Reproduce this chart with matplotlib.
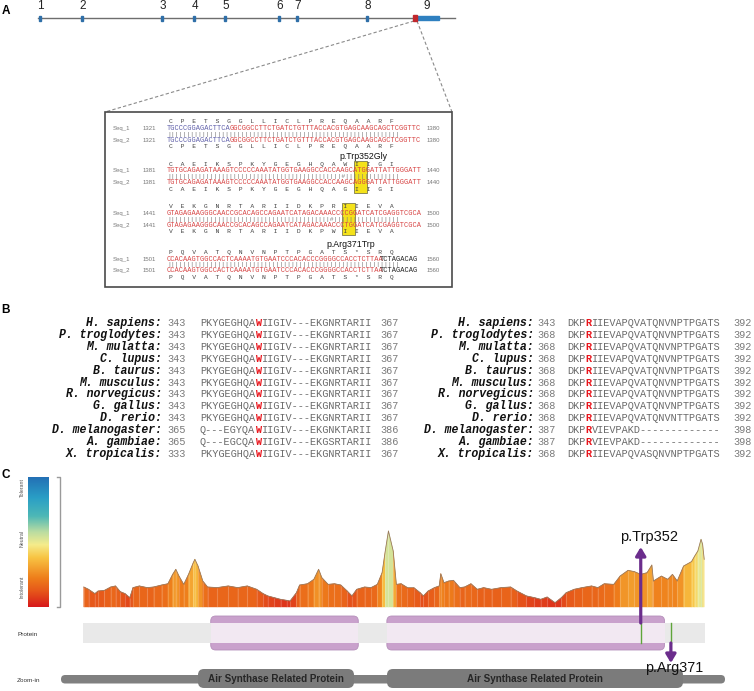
import matplotlib
matplotlib.use("Agg")
import matplotlib.pyplot as plt
import numpy as np
from matplotlib.colors import LinearSegmentedColormap, Normalize
from matplotlib.patches import Rectangle, FancyBboxPatch
from matplotlib.collections import PolyCollection

# ---------------- data ----------------
exon_labels = ["1", "2", "3", "4", "5", "6", "7", "8", "9"]
exon_pos = [40, 82, 162, 194, 225, 279, 297, 367, 415]
gene_span = [38, 455]
utr_span = [417, 439]

seq_start = [1321, 1381, 1441, 1501]
seq_end = [1380, 1440, 1500, 1560]
seq1 = ["TGCCCGGAGACTTCAGGCGGCCTTCTGATCTGTTTACCACGTGAGCAAGCAGCTCGGTTC",
        "TGTGCAGAGATAAAGTCCCCCAAATATGGTGAAGGCCACCAAGCATGGATTATTGGGATT",
        "GTAGAGAAGGGCAACCGCACAGCCAGAATCATAGACAAACCCCGGATCATCGAGGTCGCA",
        "CCACAAGTGGCCACTCAAAATGTGAATCCCACACCCGGGGCCACCTCTTAATCTAGACAG"]
seq2 = ["TGCCCGGAGACTTCAGGCGGCCTTCTGATCTGTTTACCACGTGAGCAAGCAGCTCGGTTC",
        "TGTGCAGAGATAAAGTCCCCCAAATATGGTGAAGGCCACCAAGCAGGGATTATTGGGATT",
        "GTAGAGAAGGGCAACCGCACAGCCAGAATCATAGACAAACCCTGGATCATCGAGGTCGCA",
        "CCACAAGTGGCCACTCAAAATGTGAATCCCACACCCGGGGCCACCTCTTAATCTAGACAG"]
aa1 = ["CPETSGGLLICLPREQAARF", "CAEIKSPKYGEGHQAWIIGI",
       "VEKGNRTARIIDKPRIIEVA", "PQVATQNVNPTPGATS*SRQ"]
aa2 = ["CPETSGGLLICLPREQAARF", "CAEIKSPKYGEGHQAGIIGI",
       "VEKGNRTARIIDKPWIIEVA", "PQVATQNVNPTPGATS*SRQ"]
blue_nt = [15, 0, 0, 0]        # leading nucleotides drawn in blue
black_nt = [0, 0, 0, 9]        # trailing nucleotides drawn in black
mut_rows = [1, 2]
mut_codons = [15, 14]
mut_names = ["p.Trp352Gly", "p.Arg371Trp"]

species = ["H. sapiens:", "P. troglodytes:", "M. mulatta:", "C. lupus:",
           "B. taurus:", "M. musculus:", "R. norvegicus:", "G. gallus:",
           "D. rerio:", "D. melanogaster:", "A. gambiae:", "X. tropicalis:"]
left_start = [343, 343, 343, 343, 343, 343, 343, 343, 343, 365, 365, 333]
left_end = [367, 367, 367, 367, 367, 367, 367, 367, 367, 386, 386, 367]
left_seq = ["PKYGEGHQAWIIGIV---EKGNRTARII", "PKYGEGHQAWIIGIV---EKGNRTARII",
            "PKYGEGHQAWIIGIV---EKGNRTARII", "PKYGEGHQAWIIGIV---EKGNRTARII",
            "PKYGEGHQAWIIGIV---EKGNRTARII", "PKYGEGHQAWIIGIV---EKGNRTARII",
            "PKYGEGHQAWIIGIV---EKGNRTARII", "PKYGEGHQAWIIGIV---EKGNRTARII",
            "PKYGEGHQAWIIGIV---EKGNRTARII", "Q---EGYQAWIIGIV---EKGNKTARII",
            "Q---EGCQAWIIGIV---EKGSRTARII", "PKYGEGHQAWIIGIV---EKGNRTARII"]
left_hl = 9
right_start = [343, 368, 368, 368, 368, 368, 368, 368, 368, 387, 387, 368]
right_end = [392, 392, 392, 392, 392, 392, 392, 392, 392, 398, 398, 392]
right_seq = ["DKPRIIEVAPQVATQNVNPTPGATS", "DKPRIIEVAPQVATQNVNPTPGATS",
             "DKPRIIEVAPQVATQNVNPTPGATS", "DKPRIIEVAPQVATQNVNPTPGATS",
             "DKPRIIEVAPQVATQNVNPTPGATS", "DKPRIIEVAPQVATQNVNPTPGATS",
             "DKPRIIEVAPQVATQNVNPTPGATS", "DKPRIIEVAPQVATQNVNPTPGATS",
             "DKPRIIEVAPQVATQNVNTTPGATS", "DKPRVIEVPAKD-------------",
             "DKPRVIEVPAKD-------------", "DKPRIIEVAPQVASQNVNPTPGATS"]
right_hl = 3

prof_res = [1, 4, 8, 10, 14, 18, 21, 24, 27, 30, 32, 36, 41, 45, 50, 54, 57, 59,
            61, 64, 67, 70, 71, 73, 76, 79, 85, 92, 98, 104, 110, 114, 117, 121,
            125, 129, 131, 135, 137, 142, 146, 149, 151, 155, 159, 163, 167, 170,
            173, 178, 182, 186, 189, 191, 193, 196, 198, 201, 205,
            209, 213, 215, 218, 222, 225, 226, 228, 231, 234, 238, 241, 245, 249,
            253, 258, 264, 270, 274, 280, 285, 289, 293, 298, 302, 305, 310, 315,
            321, 325, 329, 335, 339, 344, 348, 352, 356, 359, 360, 365, 369, 372,
            375, 379, 384, 386, 388, 390, 391, 392]
prof_score = [.154, .136, .103, .123, .128, .154, .162, .118, .103, .072, .149, .162,
              .149, .154, .169, .179, .251, .290, .238, .174, .251, .341, .367, .315,
              .200, .154, .149, .162, .149, .162, .136, .103, .085, .072, .059, .051,
              .046, .110, .169, .179, .213, .290, .226, .174, .179, .169, .123, .085,
              .136, .154, .149, .174, .264, .431, .585, .431, .174, .179, .149,
              .149, .110, .085, .123, .149, .162, .256, .187, .200, .205, .149, .154,
              .179, .136, .149, .136, .149, .154, .123, .085, .072, .059, .077, .033,
              .072, .110, .136, .149, .162, .149, .179, .174, .238, .282, .272, .251,
              .264, .323, .200, .238, .213, .251, .200, .315, .349, .392, .431, .521,
              .482, .367]
assert len(prof_res) == len(prof_score)

protein_len = 392
domains = [(81, 174), (192, 367)]
mutations = [352, 371]
mutation_labels = ["p.Trp352", "p.Arg371"]
zoom_bar = [61, 725]
zoom_domains = [(198, 354), (387, 683)]
zoom_domain_label = "Air Synthase Related Protein"
scale_labels = ["Tolerant", "Neutral", "Intolerant"]

# ---------------- figure ----------------
W, H = 754, 691
fig = plt.figure(figsize=(W / 100, H / 100), dpi=100)


def axes_px(x0, y0, x1, y1, **kw):
    return fig.add_axes([x0 / W, 1 - y1 / H, (x1 - x0) / W, (y1 - y0) / H], **kw)


ax = axes_px(0, 0, W, H)
ax.set_xlim(0, W)
ax.set_ylim(H, 0)
ax.axis("off")

SANS = "Liberation Sans"
MONO = "Liberation Mono"

# panel labels
for lab, (lx, ly) in zip("ABC", [(6, 11), (6, 310), (6, 475)]):
    ax.text(lx, ly, lab, fontsize=8.5, fontweight="bold", family=SANS,
            ha="center", va="center")

# ---------------- panel A: gene model ----------------
ax.plot(gene_span, [18, 18], color="#6e6e6e", lw=1.0, zorder=2)
for i, (lab, xp) in enumerate(zip(exon_labels, exon_pos)):
    if i < len(exon_pos) - 1:
        ax.add_patch(Rectangle((xp - 1, 15.5), 2.2, 5, color="#2f6fa8", zorder=3))
        ax.text(xp + 0.5, 6, lab, fontsize=8.5, family=SANS, ha="center",
                va="center", color="#222")
    else:
        ax.add_patch(Rectangle((xp - 2, 15), 4, 6, color="#c0282d", zorder=4))
        ax.add_patch(Rectangle((utr_span[0], 16.2), utr_span[1] - utr_span[0], 3.6,
                               color="#2f80c0", zorder=3))
        ax.text((xp + utr_span[1]) / 2, 6, lab, fontsize=8.5, family=SANS,
                ha="center", va="center", color="#222")

# zoom dashed lines and box
box = (105, 112, 452, 287)
ax.plot([414, box[0]], [21, box[1]], ls=(0, (3, 2)), color="#8a8a8a", lw=0.8)
ax.plot([417, box[2]], [21, box[1]], ls=(0, (3, 2)), color="#8a8a8a", lw=0.8)
ax.add_patch(Rectangle((box[0], box[1]), box[2] - box[0], box[3] - box[1],
                       fill=False, ec="#4a4a4a", lw=1.2, zorder=5))

fs_seq = 5.0
cw = 0.6 * fs_seq * 100 / 72
x_seq = 167
block_y = [121.7, 164.3, 206.7, 252.5]
RED = "#d84545"
BLUE = "#6060aa"
GRAY = "#555555"


def seq_line(y, s, r):
    nb, nk = blue_nt[r], black_nt[r]
    parts = [(0, s[:nb], BLUE), (nb, s[nb:len(s) - nk], RED),
             (len(s) - nk, s[len(s) - nk:], "#222")]
    for off, txt, col in parts:
        if txt:
            ax.text(x_seq + off * cw + (0.6 if off else 0), y, txt, family=MONO,
                    fontsize=fs_seq, color=col, ha="left", va="center", zorder=6)


for r in range(4):
    y0 = block_y[r]
    ya1, ys1, yb, ys2, ya2 = y0, y0 + 6.6, y0 + 12.4, y0 + 18.4, y0 + 25
    if r in mut_rows:
        c = mut_codons[mut_rows.index(r)]
        ax.add_patch(Rectangle((x_seq + 3 * c * cw - 0.4, ya1 - 3.6), 3 * cw + 0.8,
                               ya2 - ya1 + 6.8, fc="#f4e21a", ec="#8d8a55", lw=0.7,
                               zorder=4))
    aa_str = "  ".join(aa1[r])
    ax.text(x_seq + 0.5 * cw, ya1, aa_str, family=MONO, fontsize=4.6, color="#444",
            ha="left", va="center", zorder=6)
    aa_str = "  ".join(aa2[r])
    ax.text(x_seq + 0.5 * cw, ya2, aa_str, family=MONO, fontsize=4.6, color="#444",
            ha="left", va="center", zorder=6)
    seq_line(ys1, seq1[r], r)
    seq_line(ys2, seq2[r], r)
    bars = "".join("|" if a == b else "#" for a, b in zip(seq1[r], seq2[r]))
    ax.text(x_seq, yb, bars, family=MONO, fontsize=4.6, color="#808080",
            ha="left", va="center", zorder=6)
    for yy, nm in [(ys1, "Seq_1"), (ys2, "Seq_2")]:
        ax.text(113, yy, nm, family=SANS, fontsize=4.3, color="#777", ha="left",
                va="center")
        ax.text(143, yy, str(seq_start[r]), family=SANS, fontsize=4.3, color="#777",
                ha="left", va="center")
        ax.text(427, yy, str(seq_end[r]), family=SANS, fontsize=4.3, color="#777",
                ha="left", va="center")

ax.text(363, 156.8, mut_names[0], family=SANS, fontsize=6.3, ha="center",
        va="center", color="#111")
ax.text(351, 244, mut_names[1], family=SANS, fontsize=6.3, ha="center",
        va="center", color="#111")

# ---------------- panel B: conservation ----------------
fs_b = 7.4
cwb = 0.6 * fs_b * 100 / 72
row_y0, row_dy = 323, 11.9
for i, sp in enumerate(species):
    y = row_y0 + i * row_dy
    for (xs, xn, xq, xe, starts, ends, seqs, hl) in [
            (162, 167, 200, 380, left_start, left_end, left_seq, left_hl),
            (534, 537, 567, 733, right_start, right_end, right_seq, right_hl)]:
        ax.text(xs, y, sp, family=MONO, fontsize=8.3, fontweight="bold",
                style="italic", ha="right", va="center", color="#111")
        ax.text(xn, y, str(starts[i]), family=MONO, fontsize=fs_b, color="#7a7a7a",
                ha="left", va="center")
        s = seqs[i]
        ax.text(xq, y, s[:hl], family=MONO, fontsize=fs_b,
                color="#6a6a6a", ha="left", va="center")
        ax.text(xq + hl * cwb, y, s[hl], family=MONO, fontsize=fs_b,
                fontweight="bold", color="#e8141b", ha="left", va="center")
        ax.text(xq + (hl + 1) * cwb, y, s[hl + 1:], family=MONO, fontsize=fs_b,
                color="#6a6a6a", ha="left", va="center")
        ax.text(xe, y, str(ends[i]), family=MONO, fontsize=fs_b, color="#7a7a7a",
                ha="left", va="center")

# ---------------- panel C ----------------
cmap = LinearSegmentedColormap.from_list("tol", [
    (0.0, "#d7191c"), (0.12, "#e6561a"), (0.22, "#ee7d1a"), (0.38, "#f8c443"),
    (0.48, "#f5ec8c"), (0.58, "#b9dca2"), (0.70, "#4eb8b6"), (0.84, "#2a9fc6"),
    (1.0, "#2370b5")])

cb_top, cb_bot = 477, 607
axcb = axes_px(28, cb_top, 49, cb_bot)
axcb.imshow(np.linspace(0, 1, 256)[:, None], origin="lower", aspect="auto",
            cmap=cmap, extent=(0, 1, 0, 1))
axcb.axis("off")
for lab, yy in zip(scale_labels, [487, 538, 587]):
    ax.text(22, yy, lab, rotation=90, fontsize=3.8, family=SANS, color="#555",
            ha="center", va="center")
ax.plot([57, 60, 60, 57], [cb_top, cb_top, cb_bot, cb_bot], color="#9a9a9a",
        lw=1.0)

# profile axes: residue x, score y (score 1 == colorbar height)
px_per_res = (705 - 83) / protein_len
y_bottom_px = 690
axc = axes_px(83, cb_top, 705, y_bottom_px)
axc.set_xlim(0.5, protein_len + 0.5)
axc.set_ylim(-(y_bottom_px - cb_bot) / (cb_bot - cb_top), 1)
axc.axis("off")
axc.patch.set_alpha(0)

norm = Normalize(0, 0.95)
polys, cols = [], []
for i in range(len(prof_res) - 1):
    x0, x1 = prof_res[i], prof_res[i + 1]
    s0, s1 = prof_score[i], prof_score[i + 1]
    polys.append([(x0, 0), (x0, s0), (x1, s1), (x1, 0)])
    cols.append(cmap(norm(0.5 * (s0 + s1))))
axc.add_collection(PolyCollection(polys, facecolors=cols, edgecolors=cols,
                                  linewidths=0.3, zorder=2))
# faint per-point stripes, as in the reference texture
axc.vlines(prof_res, 0, prof_score, colors="white", alpha=0.18, lw=0.8, zorder=2.2)
axc.plot(prof_res, prof_score, color="#9a7a5e", lw=0.6, zorder=3)

py = 1.0 / (cb_bot - cb_top)  # score units per pixel


def ypx(p):
    return (cb_bot - p) * py


# protein band and domains
rx = 1.0 / px_per_res
for d0, d1 in domains:
    axc.add_patch(FancyBboxPatch((d0, ypx(650)), d1 - d0, ypx(616) - ypx(650),
                                 boxstyle="round,pad=0,rounding_size=%f" % (5 * rx),
                                 mutation_aspect=py / rx, fc="#c9a1cc", ec="#b58fba",
                                 lw=0.6, zorder=2))
axc.add_patch(Rectangle((0.5, ypx(643)), protein_len, ypx(623) - ypx(643),
                        fc="#e9e9e9", ec="none", zorder=2.5))
for d0, d1 in domains:
    axc.add_patch(Rectangle((d0, ypx(643)), d1 - d0, ypx(623) - ypx(643),
                            fc="#f2e8f2", ec="none", zorder=2.6))
for m in mutations:
    axc.plot([m, m], [ypx(643), ypx(623)], color="#5fa53a", lw=1.0, zorder=3)

PURPLE = "#6b2d8c"
axc.annotate("", xy=(mutations[0], ypx(547)), xytext=(mutations[0], ypx(623)),
             arrowprops=dict(arrowstyle="-|>,head_length=0.5,head_width=0.3",
                             color=PURPLE, lw=2.3, shrinkA=0, shrinkB=0), zorder=5)
axc.annotate("", xy=(mutations[1], ypx(663)), xytext=(mutations[1], ypx(643)),
             arrowprops=dict(arrowstyle="-|>,head_length=0.5,head_width=0.3",
                             color=PURPLE, lw=2.3, shrinkA=0, shrinkB=0), zorder=5)
axc.text(mutations[0] + 5.5, ypx(537), mutation_labels[0], fontsize=10.5,
         family=SANS, ha="center", va="center", color="#111", zorder=6)
axc.text(mutations[1] + 2, ypx(668), mutation_labels[1], fontsize=10.3,
         family=SANS, ha="center", va="center", color="#111", zorder=6)

# track labels
ax.text(17, 634, "Protein", fontsize=4.6, family=SANS, color="#333", ha="left",
        va="center")
ax.text(17, 680, "Zoom-in", fontsize=4.6, family=SANS, color="#333", ha="left",
        va="center")

# zoom-in track
ax.add_patch(FancyBboxPatch((zoom_bar[0], 675), zoom_bar[1] - zoom_bar[0], 8.5,
                            boxstyle="round,pad=0,rounding_size=4.2", fc="#808080",
                            ec="none", zorder=2))
for z0, z1 in zoom_domains:
    ax.add_patch(FancyBboxPatch((z0, 669), z1 - z0, 19,
                                boxstyle="round,pad=0,rounding_size=6", fc="#7b7b7b",
                                ec="none", zorder=3))
    ax.text((z0 + z1) / 2, 678.5, zoom_domain_label, fontsize=7.1, family=SANS,
            fontweight="bold", color="#262626", ha="center", va="center", zorder=4)

fig.savefig("out.png", dpi=100)
